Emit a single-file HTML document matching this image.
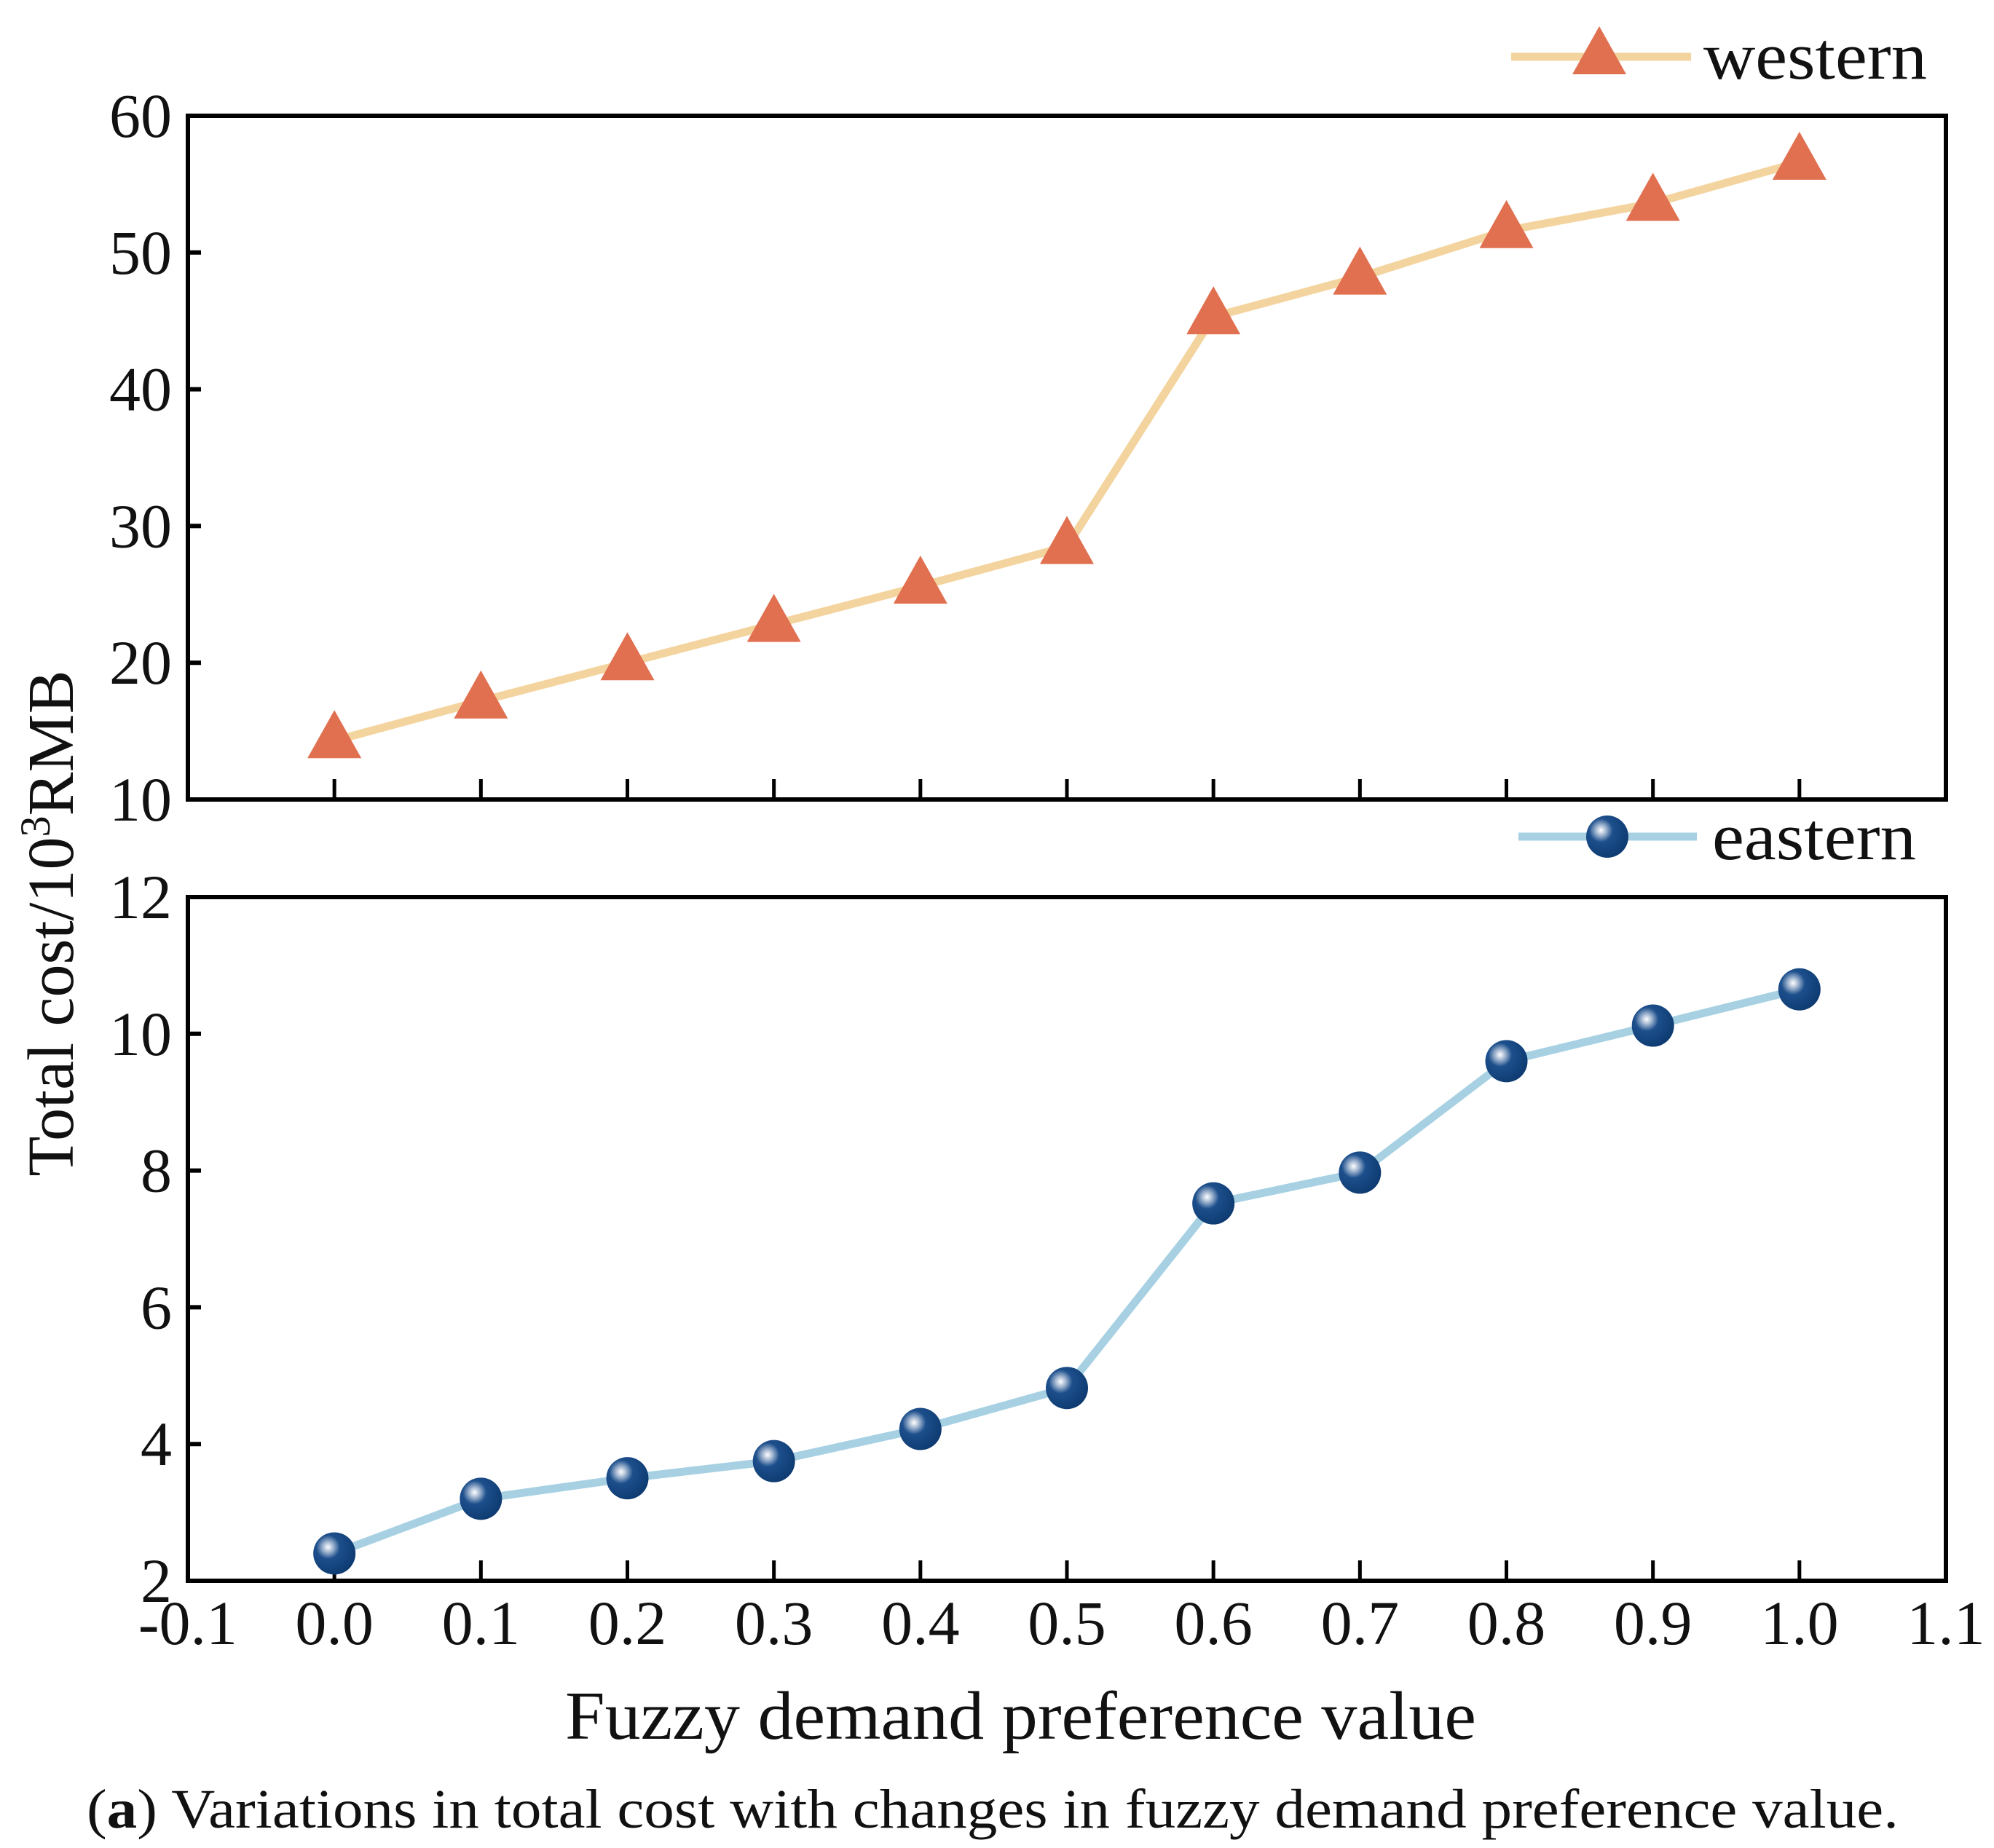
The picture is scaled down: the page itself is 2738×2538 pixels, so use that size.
<!DOCTYPE html>
<html><head><meta charset="utf-8"><style>
body{margin:0;background:#fff}
svg{display:block}
text{font-family:"Liberation Serif",serif;fill:#111}
</style></head><body>
<svg id="chart" width="2738" height="2538" viewBox="0 0 2738 2538" xmlns="http://www.w3.org/2000/svg">
<defs>
<radialGradient id="ball" cx="0.35" cy="0.35" r="0.7">
<stop offset="0" stop-color="#ffffff"/><stop offset="0.18" stop-color="#9fb4cf"/><stop offset="0.4" stop-color="#1d4f8c"/><stop offset="1" stop-color="#0d3a70"/>
</radialGradient>
</defs>
<g id="top"></g>
<g id="bot"></g>
<g id="common"></g>
</svg>
<script>
const xValues=[0.0,0.1,0.2,0.3,0.4,0.5,0.6,0.7,0.8,0.9,1.0];
const xTicks=[-0.1,0.0,0.1,0.2,0.3,0.4,0.5,0.6,0.7,0.8,0.9,1.0,1.1];
const westernValues=[14.3,17.2,20.0,22.8,25.6,28.5,45.3,48.2,51.6,53.6,56.6];
const easternValues=[2.4,3.2,3.5,3.75,4.22,4.82,7.52,7.97,9.6,10.12,10.65];
const westernTicks=[10,20,30,40,50,60];
const easternTicks=[2,4,6,8,10,12];

const NS="http://www.w3.org/2000/svg";
function mk(tag,attrs,parent,txt){const e=document.createElementNS(NS,tag);for(const k in attrs)e.setAttribute(k,attrs[k]);if(txt!==undefined)e.textContent=txt;parent.appendChild(e);return e;}
const X0=258,X1=2672;
const xs=v=>X0+(v-(-0.1))/(1.2)*(X1-X0);

function panel(g,top,bottom,ymin,ymax,ticks,vals,kind,showX){
  const ys=v=>bottom-(v-ymin)/(ymax-ymin)*(bottom-top);
  ticks.forEach(t=>{
    const l=mk('line',{x1:X0,x2:X0+18,y1:ys(t),y2:ys(t),stroke:'#000','stroke-width':6},g);
    
    
    const tx=mk('text',{x:236,y:ys(t)+29,'text-anchor':'end','font-size':86},g,String(t));
    
    
  });
  xValues.forEach(v=>{
    const l=mk('line',{x1:xs(v),x2:xs(v),y1:bottom,y2:bottom-28,stroke:'#000','stroke-width':5},g);
    
    
  });
  const pts=vals.map((v,i)=>xs(xValues[i])+','+ys(v)).join(' ');
  const line=mk('polyline',{points:pts,fill:'none',stroke:kind==='tri'?'#f4d49e':'#a7d1e3','stroke-width':11,'stroke-linejoin':'round'},g);
  
  
  vals.forEach((v,i)=>{
    const cx=xs(xValues[i]),cy=ys(v);
    if(kind==='tri'){
      const m=mk('polygon',{points:`${cx},${cy-42} ${cx-37},${cy+24} ${cx+37},${cy+24}`,fill:'#e07050'},g);
      
      
    }else{
      const m=mk('circle',{cx:cx,cy:cy,r:29,fill:'url(#ball)'},g);
      
      
    }
  });
  const fr=mk('rect',{x:X0,y:top,width:X1-X0,height:bottom-top,fill:'none',stroke:'#000','stroke-width':6},g);
  
  
  if(showX){
    xTicks.forEach(t=>{
      const tx=mk('text',{x:xs(t),y:2258,'text-anchor':'middle','font-size':86},g,t.toFixed(1));
      
      
    });
  }
}
panel(document.getElementById('top'),159,1098,10,60,westernTicks,westernValues,'tri',false);
panel(document.getElementById('bot'),1232,2171,2,12,easternTicks,easternValues,'ball',true);

const c=document.getElementById('common');
let e;
e=mk('line',{x1:2075,x2:2322,y1:78,y2:78,stroke:'#f4d49e','stroke-width':11},c);


e=mk('polygon',{points:'2196,36 2159,102 2233,102',fill:'#e07050'},c);


e=mk('text',{x:2339,y:108,'font-size':92,textLength:307,lengthAdjust:'spacingAndGlyphs'},c,'western');


e=mk('line',{x1:2085,x2:2330,y1:1149,y2:1149,stroke:'#a7d1e3','stroke-width':11},c);


e=mk('circle',{cx:2207,cy:1149,r:29,fill:'url(#ball)'},c);


e=mk('text',{x:2351,y:1180,'font-size':92,textLength:280,lengthAdjust:'spacingAndGlyphs'},c,'eastern');


e=mk('text',{x:776,y:2388,'font-size':94,textLength:1251,lengthAdjust:'spacingAndGlyphs'},c,'Fuzzy demand preference value');


e=mk('text',{x:0,y:0,'text-anchor':'middle','font-size':90,transform:'translate(100,1268) rotate(-90)'},c);


e.innerHTML='Total cost/10<tspan dy="-32" font-size="58">3</tspan><tspan dy="32">RMB</tspan>';
e=mk('text',{x:119,y:2510,'font-size':76,textLength:2488,lengthAdjust:'spacingAndGlyphs'},c);


e.innerHTML='(<tspan font-weight="bold">a</tspan>) Variations in total cost with changes in fuzzy demand preference value.';
</script>
</body></html>
